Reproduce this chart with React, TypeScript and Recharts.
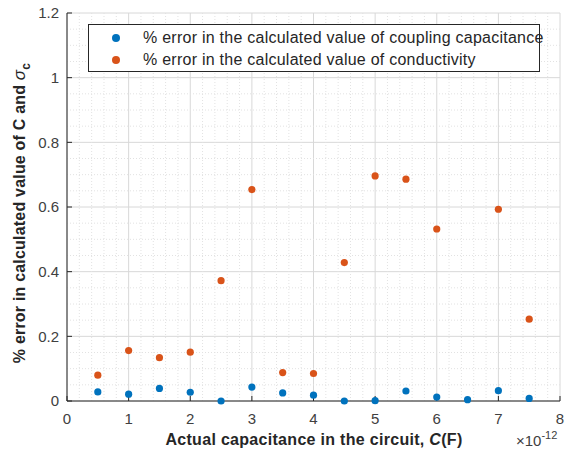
import { CartesianGrid, ReferenceLine, Scatter, ScatterChart, XAxis, YAxis } from "recharts";

// capacitance in units of 1e-12 F
const capacitance = [0.5, 1, 1.5, 2, 2.5, 3, 3.5, 4, 4.5, 5, 5.5, 6, 6.5, 7, 7.5];
const couplingError = [
  0.028, 0.021, 0.039, 0.027, 0, 0.043, 0.025, 0.018, 0, 0.001, 0.031, 0.012, 0.004, 0.032, 0.008,
];
const conductivityError = [
  0.08, 0.156, 0.134, 0.151, 0.372, 0.654, 0.088, 0.085, 0.428, 0.696, 0.686, 0.532, null, 0.593,
  0.253,
];

const xTicks = [0, 1, 2, 3, 4, 5, 6, 7, 8];
const yTicks = [0, 0.2, 0.4, 0.6, 0.8, 1, 1.2];
// minor grid: every 0.2 on x, every 0.05 on y (skipping major positions)
const xMinor = Array.from({ length: 41 }, (_, i) => +(i * 0.2).toFixed(2)).filter(
  (v) => !xTicks.includes(v)
);
const yMinor = Array.from({ length: 25 }, (_, i) => +(i * 0.05).toFixed(2)).filter(
  (v) => !yTicks.includes(v)
);

const BLUE = "#0072BD";
const ORANGE = "#D95319";
const AXIS = "#262626";
const TICK = "#404040";
const FONT = '"Liberation Sans", Arial, Helvetica, sans-serif';

const couplingData = capacitance.map((c, i) => ({ c, err: couplingError[i] }));
const conductivityData = capacitance
  .map((c, i) => ({ c, err: conductivityError[i] }))
  .filter((d) => d.err !== null);

const dot = (color: string) => (props: any) => (
  <circle cx={props.cx} cy={props.cy} r={3.6} fill={color} />
);

function YTitle() {
  const cx = 25;
  const cy = 213;
  return (
    <text
      x={cx}
      y={cy}
      transform={`rotate(-90 ${cx} ${cy})`}
      textAnchor="middle"
      fill={AXIS}
      fontSize={16}
      fontWeight="bold"
      letterSpacing={0.2}
      fontFamily={FONT}
    >
      % error in calculated value of C and{" "}
      <tspan fontStyle="italic" fontWeight="normal" fontSize={17}>
        σ
      </tspan>
      <tspan fontSize={12} dy={5}>
        c
      </tspan>
    </text>
  );
}

function XTitle() {
  return (
    <g fontFamily={FONT}>
      <text
        x={314}
        y={445}
        textAnchor="middle"
        fill={AXIS}
        fontSize={16}
        fontWeight="bold"
        letterSpacing={0.3}
      >
        Actual capacitance in the circuit, <tspan fontStyle="italic">C</tspan>(F)
      </text>
      <text x={516} y={446} fill={TICK} fontSize={15}>
        ×10
        <tspan fontSize={11} dy={-7}>
          -12
        </tspan>
      </text>
    </g>
  );
}

function LegendBox() {
  const rows = [
    { color: BLUE, label: "% error in the calculated value of coupling capacitance" },
    { color: ORANGE, label: "% error in the calculated value of conductivity" },
  ];
  return (
    <div
      style={{
        position: "absolute",
        left: 88,
        top: 24,
        width: 452,
        height: 48,
        border: `1px solid ${AXIS}`,
        background: "#fff",
        fontFamily: FONT,
        fontSize: 16,
        letterSpacing: 0.25,
        color: AXIS,
        boxSizing: "border-box",
        paddingTop: 2,
        whiteSpace: "nowrap",
      }}
    >
      {rows.map((r) => (
        <div key={r.label} style={{ display: "flex", alignItems: "center", height: 22 }}>
          <span
            style={{
              flex: "none",
              width: 8,
              height: 8,
              borderRadius: "50%",
              background: r.color,
              marginLeft: 23,
              marginRight: 23,
            }}
          />
          <span>{r.label}</span>
        </div>
      ))}
    </div>
  );
}

export default function App() {
  return (
    <div
      style={{ position: "absolute", left: 0, top: 0, width: 566, height: 452, background: "#fff" }}
    >
      <ScatterChart
        width={566}
        height={452}
        margin={{ top: 13, right: 6, bottom: 0, left: 0 }}
        style={{ fontFamily: FONT }}
      >
        <CartesianGrid stroke="#d8d8d8" strokeWidth={1} />
        {xMinor.map((v) => (
          <ReferenceLine key={`vx${v}`} x={v} stroke="#e2e2e2" strokeDasharray="1 2" />
        ))}
        {yMinor.map((v) => (
          <ReferenceLine key={`hy${v}`} y={v} stroke="#e2e2e2" strokeDasharray="1 2" />
        ))}
        <XAxis
          type="number"
          dataKey="c"
          domain={[0, 8]}
          ticks={xTicks}
          tickSize={-5}
          tickMargin={17}
          height={51}
          stroke={AXIS}
          tick={{ fill: TICK, fontSize: 15 }}
          label={<XTitle />}
        />
        <YAxis
          type="number"
          dataKey="err"
          domain={[0, 1.2]}
          ticks={yTicks}
          tickSize={-5}
          tickMargin={13}
          width={67}
          stroke={AXIS}
          tick={{ fill: TICK, fontSize: 15 }}
          label={<YTitle />}
        />
        <Scatter
          name="% error in the calculated value of coupling capacitance"
          data={couplingData}
          fill={BLUE}
          shape={dot(BLUE)}
          isAnimationActive={false}
        />
        <Scatter
          name="% error in the calculated value of conductivity"
          data={conductivityData}
          fill={ORANGE}
          shape={dot(ORANGE)}
          isAnimationActive={false}
        />
      </ScatterChart>
      <LegendBox />
    </div>
  );
}
